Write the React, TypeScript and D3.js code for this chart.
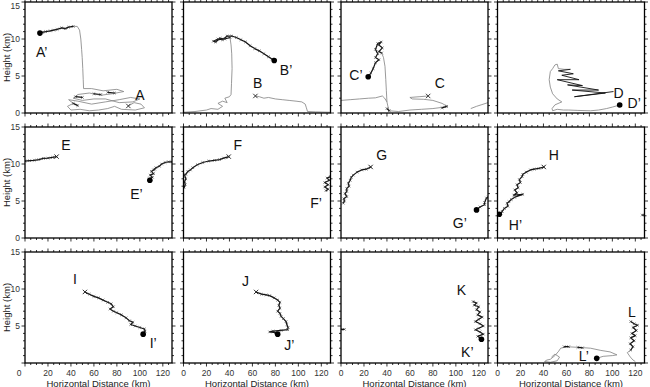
import React from "react";
import * as d3 from "d3";

type P = [number, number] | null;

// ---- tick values ----
const xTickMajor = [0, 20, 40, 60, 80, 100, 120];
const xTickMinor = d3.range(0, 129, 5);
const yTickMajor = [0, 5, 10, 15];
const yTickMinor = d3.range(0, 16, 1);

// ---- trajectories (horizontal distance km, height km) ----
const greyA: P[] = [[90,0.95],[95,1.4],[101,1.2],[104,0.7],[96,0.4],[84,0.5],[78,0.9],[72,0.6],[64,0.4],[56,0.3],[48,0.5],[40,0.4],[37,0.9],[42,1.3],[38,1.8],[46,1.6],[58,1.2],[70,1.5],[82,1.8],[92,2.1],[100,1.9],[94,1.5],[82,1.4],[70,1.9],[60,1.9],[50,1.7],[42,2.0],[46,2.5],[56,2.7],[66,2.4],[76,2.6],[86,2.9],[80,3.2],[68,3.0],[58,3.3],[51,3.3],[50.7,4.5],[50.3,6],[49.8,7.5],[49.3,8.6],[48.6,10],[47.5,11.2],[45.5,11.7],[42,11.7]];
const blackA: P[] = [[42,11.7],[38,11.6],[35,11.4],[32,11.5],[28,11.3],[25,11.2],[22,11.1],[18,11.0],[15,10.9],[13,10.8],null,[44,2.2],[50,2.1],null,[60,2.6],[66,2.5],null,[72,2.8],[78,2.7],null,[42,1.3],[46,1.0]];

const greyB: P[] = [[62.6,2.3],[66,2.2],[70,2.0],[74,2.1],[80,1.9],[86,1.8],[92,1.7],[98,1.6],[103,1.5],[106,1.2],[107,0.7],[108,0.2],[115,0.15],[128,0.1],null,[0,0.1],[10,0.2],[20,0.4],[24,0.6],[30,0.5],[34,0.9],[30,1.3],[34,1.6],[38,1.4],[36,2.0],[40,2.2],[41.4,2.5],[41.8,4],[42.3,6],[42,8],[41.4,9.2],[40.5,10.2]];
const blackB: P[] = [[40.5,10.2],[36,10.0],[32,10.1],[28,9.6],[26,9.7],[30,10.0],[34,9.9],[38,10.4],[42,10.4],[46,10.2],[50,9.9],[54,9.6],[58,9.1],[62,8.7],[66,8.4],[70,8.0],[74,7.6],[77,7.3],[79,7.1]];

const greyC: P[] = [[0,1.7],[8,1.8],[16,1.9],[24,2.0],[30,2.05],[36,2.3],[38,2.0],[40,1.5],[41,0.8],[42,0.3],[50,0.2],[60,0.4],[70,0.5],[80,0.6],[90,0.8],[93,0.85],[88,1.3],[80,1.7],[72,1.85],[62,1.9],[60,2.1],[68,2.2],[75.9,2.3],null,[113,0.6],[118,0.9],[122,1.1],[128,1.4],null,[40,1.5],[39.5,3],[39,4.5],[38.3,6.3],[37,7.5],[35.4,8.1]];
const blackC: P[] = [[35.4,8.1],[33,8.3],[36,8.8],[33,9.2],[35,9.6],[32,9.4],[30,8.6],[32,8.0],[30,7.5],[33,7.2],[30,6.8],[28,6.0],[26,5.4],[23.7,4.9],null,[40,0.6],[42,0.3],null,[88,0.7],[92,0.9]];

const greyD: P[] = [[106.4,1.08],[100,0.8],[95,0.6],[88,0.4],[81,0.3],[70,0.35],[62,0.4],[57.4,0.4],[52,0.5],[48,0.3],[47.5,0.6],[50,1.1],[56,1.5],[52,1.9],[48,2.6],[46,3.5],[45,4.5],[46,5.6],[48,6.0],[50,6.5],[52,6.6],[53,6.0],[58,5.9],[63.5,5.9]];
const blackD: P[] = [[101,2.9],[67,2.2],[94,2.7],[65,3.1],[88,3.1],[61,3.8],[74,3.7],[52,4.5],[71,4.5],[56,5.1],[66,5.3],[53,5.7],[63.5,5.9]];

const blackE: P[] = [[27.5,11.0],[24,10.9],[20,10.8],[16,10.75],[12,10.6],[8,10.5],[4,10.45],[0,10.4],null,[128,10.3],[125,10.3],[122,10.2],[119,10.0],[117,9.7],[114,9.5],[112,9.2],[113,9.3],[110,9.0],[112,8.7],[109,8.5],[111,8.2],[108,8.0],[108.7,7.8]];

const blackF: P[] = [[39.4,11.0],[35,10.8],[31.3,10.6],[27,10.5],[22,10.4],[16.8,10.2],[12,9.9],[8.1,9.5],[6,9.2],[3.8,9.0],[2,8.6],[0.9,8.5],[2,8.0],[0.9,7.6],[1.5,7.2],[0.5,6.8],null,[128,8.3],[125,8.1],[127,7.8],[123,7.5],[126,7.2],[123,6.9],[126,6.6],[124,6.4]];

const blackG: P[] = [[25.8,9.6],[22,9.3],[18,9.2],[14,8.9],[10.7,8.5],[9,8.2],[8,7.8],[6.4,7.4],[7,7.0],[5,6.7],[5,6.3],[3.5,6.0],[5,5.6],[2.5,5.3],[3,5.0],[2,4.7],null,[128,5.5],[126.7,5.4],[125,4.8],[125,4.5],[121,4.2],[118,3.8]];

const blackH: P[] = [[40.3,9.6],[36,9.4],[32,9.3],[28.7,9.2],[25,8.9],[22,8.6],[21.4,8.3],[19,7.9],[20,7.5],[17,7.2],[18,6.8],[15,6.5],[17,6.1],[14.2,5.8],[22,5.9],[15,5.5],[12,5.2],[10,4.9],[8.4,4.7],[9,4.3],[6,4.0],[4.1,3.6],[3,3.3],[1.1,3.1],null,[126,3.1],[128,3.1]];

const blackI: P[] = [[52.2,9.6],[56,9.3],[60,9.0],[64,8.8],[68,8.5],[72,8.2],[75,8.0],[77,7.6],[74,7.3],[77,7.0],[80,6.8],[84,6.5],[88,6.1],[91,5.7],[94,5.5],[92,5.2],[96,5.0],[100,4.8],[104,4.6],[104.5,4.3],[102.9,3.9]];

const blackJ: P[] = [[63.2,9.6],[68,9.3],[72,9.2],[75,9.1],[79,8.8],[82,8.5],[84,8.2],[83,7.8],[84,7.4],[82,7.0],[84,6.7],[85,6.3],[87,6.0],[89.3,5.6],[90,5.2],[91,4.8],[90.7,4.5],[85,4.4],[78,4.3],[75,4.2],[80,4.1],[82,3.9]];

const blackK: P[] = [[115,8.3],[118,8.1],[116,7.8],[120,7.6],[118,7.2],[121,6.9],[119,6.5],[123,6.2],[120,5.9],[117,5.6],[121,5.3],[124,5.0],[120,4.7],[117,4.5],[121,4.2],[124,3.9],[119,3.6],[121,3.4],[122.3,3.2],null,[0,4.55],[3,4.55]];

const greyL: P[] = [[116,1.75],[113,1.4],[115.7,0.8],[118,0.4],[120,0.2],null,[86.4,0.63],[92,0.9],[100,1.0],[104,1.1],[98,1.5],[90,1.7],[81,2.0],[72,2.1],[60.6,2.2],[55,2.0],[53.3,1.6],[50,1.0],[46,0.5],[43,0.4],[41,0.2],[46,0.1],[52,0.3],[54,0.8],[50,1.2],[47,0.8]];
const blackL: P[] = [[116,5.6],[119,5.3],[122,5.1],[118,4.8],[121,4.4],[117,4.0],[120,3.7],[116,3.4],[119,3.0],[115.5,2.6],[118,2.2],[116,1.75],null,[58,2.2],[62,2.2],null,[70,2.1],[74,2.05]];

const panelNames = ["A","B","C","D","E","F","G","H","I","J","K","L"];
const greys: P[][] = [greyA, greyB, greyC, greyD, [], [], [], [], [], [], [], greyL];
const blacks: P[][] = [blackA, blackB, blackC, blackD, blackE, blackF, blackG, blackH, blackI, blackJ, blackK, blackL];
const startPts: P[] = [[90,0.95],[62.6,2.3],[75.9,2.3],null,[27.5,11.0],[39.4,11.0],[25.8,9.6],[40.3,9.6],[52.2,9.6],[63.2,9.6],null,null];
const endPts: P[] = [[13,10.8],[79,7.1],[23.7,4.9],[106.4,1.08],[108.7,7.8],null,[118,3.8],[1.5,3.2],[102.9,3.9],[82,3.9],[122.3,3.2],[86.4,0.63]];
const labelPos: [number, number][] = [[100,2.4],[64.6,4.0],[86,4.1],[105.5,2.7],[35.7,12.6],[47.2,12.6],[35.4,11.2],[49,11.2],[43.5,11.3],[53.9,11.1],[104.9,9.8],[117.1,6.9]];
const primePos: [number, number][] = [[14.5,8.3],[89.3,5.8],[13,5.1],[119,1.4],[97,6.0],[115.4,4.7],[103.5,2.0],[15.6,1.8],[111.6,2.7],[92.2,2.4],[110,1.5],[75.1,0.95]];

const colLeft = [25, 183.5, 341, 497.5];
const rowTop = [2, 127, 252];
const PW = 147;
const PH = 111;

const FONT = "'Liberation Sans', Arial, Helvetica, sans-serif";

function Panel({ idx }: { idx: number }) {
  const col = idx % 4;
  const row = Math.floor(idx / 4);
  const x0 = colLeft[col];
  const y0 = rowTop[row];
  const xs = d3.scaleLinear().domain([0, 128]).range([x0, x0 + PW]);
  const ys = d3.scaleLinear().domain([0, 15]).range([y0 + PH, y0]);
  const line = d3
    .line<P>()
    .defined((d) => d !== null)
    .x((d) => xs((d as [number, number])[0]))
    .y((d) => ys((d as [number, number])[1]));
  const grey = greys[idx];
  const black = blacks[idx];
  const st = startPts[idx];
  const en = endPts[idx];
  const name = panelNames[idx];
  const lp = labelPos[idx];
  const pp = primePos[idx];
  const clipId = `clip${idx}`;
  const bottom = y0 + PH;
  const right = x0 + PW;
  const thin = idx === 3;
  return (
    <g>
      <defs>
        <clipPath id={clipId}>
          <rect x={x0} y={y0} width={PW} height={PH} />
        </clipPath>
      </defs>
      <g clipPath={`url(#${clipId})`}>
        {grey.length > 0 && (
          <path d={line(grey) || ""} fill="none" stroke="#808080" strokeWidth={0.8} />
        )}
        <path d={line(black) || ""} fill="none" stroke="#111" strokeWidth={thin ? 0.9 : 1.2} strokeLinejoin="round" />
        {!thin && black.filter((d) => d !== null).map((d, i) => {
          const px = xs((d as [number, number])[0]);
          const py = ys((d as [number, number])[1]);
          return (
            <path key={i} d={`M${px - 1.3},${py - 1.3}L${px + 1.3},${py + 1.3}M${px - 1.3},${py + 1.3}L${px + 1.3},${py - 1.3}`} stroke="#333" strokeWidth={0.6} />
          );
        })}
        {st && (
          <path
            d={`M${xs(st[0]) - 2.2},${ys(st[1]) - 2.2}L${xs(st[0]) + 2.2},${ys(st[1]) + 2.2}M${xs(st[0]) - 2.2},${ys(st[1]) + 2.2}L${xs(st[0]) + 2.2},${ys(st[1]) - 2.2}`}
            stroke="#222"
            strokeWidth={0.9}
          />
        )}
        {en && <circle cx={xs(en[0])} cy={ys(en[1])} r={2.8} fill="#000" />}
      </g>
      {/* ticks */}
      {xTickMinor.map((v) => {
        const len = xTickMajor.includes(v) ? 3.5 : 2;
        return (
          <g key={`xt${v}`} stroke="#000" strokeWidth={0.8}>
            <line x1={xs(v)} x2={xs(v)} y1={bottom} y2={bottom + len} />
            <line x1={xs(v)} x2={xs(v)} y1={y0} y2={y0 - len} />
          </g>
        );
      })}
      {yTickMinor.map((v) => {
        const len = yTickMajor.includes(v) ? 3.5 : 2;
        return (
          <g key={`yt${v}`} stroke="#000" strokeWidth={0.8}>
            <line x1={x0} x2={x0 - len} y1={ys(v)} y2={ys(v)} />
            <line x1={right} x2={right + len} y1={ys(v)} y2={ys(v)} />
          </g>
        );
      })}
      <rect x={x0} y={y0} width={PW} height={PH} fill="none" stroke="#000" strokeWidth={1.3} />
      {/* panel labels */}
      <text x={xs(lp[0])} y={ys(lp[1])} fontSize={14} fontFamily={FONT} textAnchor="middle" dominantBaseline="central" fill="#111">
        {name}
      </text>
      <text x={xs(pp[0])} y={ys(pp[1])} fontSize={14} fontFamily={FONT} textAnchor="middle" dominantBaseline="central" fill="#111">
        {name + "\u2019"}
      </text>
      {/* y tick labels */}
      {col === 0 &&
        yTickMajor
          .filter((v) => !(row === 2 && v === 0))
          .map((v) => (
            <text key={`yl${v}`} x={x0 - 5} y={Math.max(ys(v), 6)} fontSize={8.5} fontFamily={FONT} textAnchor="end" dominantBaseline="central" fill="#333">
              {v}
            </text>
          ))}
      {col === 0 && (
        <text
          transform={`translate(${x0 - 19},${y0 + PH / 2}) rotate(-90)`}
          fontSize={9.5}
          fontFamily={FONT}
          textAnchor="middle"
          dominantBaseline="central"
          fill="#222"
        >
          Height (km)
        </text>
      )}
      {row === 2 &&
        xTickMajor.map((v) => (
          <text
            key={`xl${v}`}
            x={col === 0 && v === 0 ? x0 - 6 : xs(v)}
            y={bottom + 10}
            fontSize={8.5}
            fontFamily={FONT}
            textAnchor="middle"
            dominantBaseline="central"
            fill="#333"
          >
            {v}
          </text>
        ))}
      {row === 2 && (
        <text x={x0 + PW / 2} y={bottom + 20} fontSize={9.5} fontFamily={FONT} textAnchor="middle" dominantBaseline="central" fill="#222">
          Horizontal Distance (km)
        </text>
      )}
    </g>
  );
}

export default function App() {
  return (
    <svg width={650} height={387} style={{ position: "absolute", left: 0, top: 0, background: "#fff" }}>
      <rect x={0} y={0} width={650} height={387} fill="#fff" />
      {panelNames.map((_, i) => (
        <Panel key={i} idx={i} />
      ))}
    </svg>
  );
}
